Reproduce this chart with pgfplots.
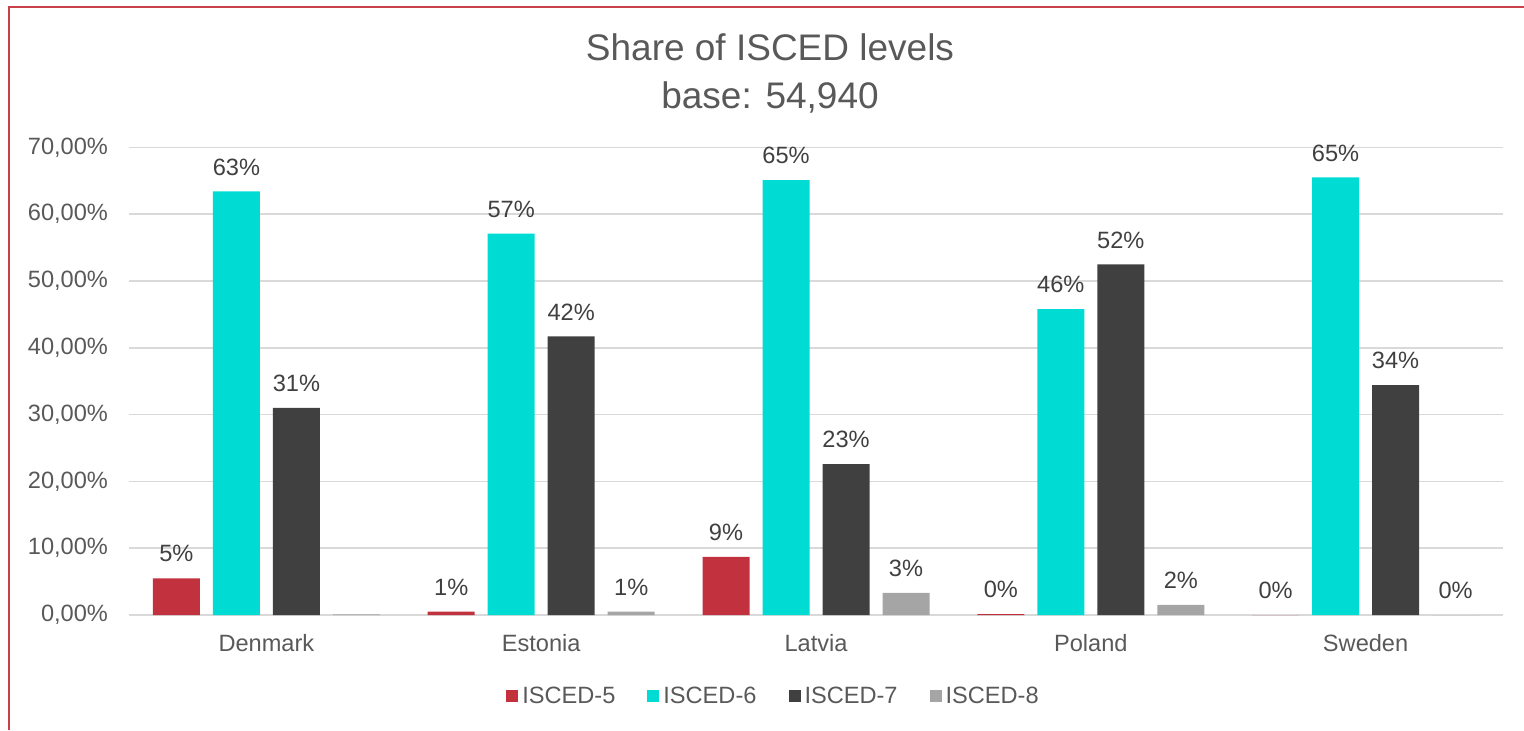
\documentclass[border=0pt]{standalone}
\usepackage{fontspec}
\setmainfont{Liberation Sans}
\usepackage{pgfplots}
\pgfplotsset{compat=1.18}
\definecolor{isA}{HTML}{C1323E}
\definecolor{isB}{HTML}{00DCD4}
\definecolor{isC}{HTML}{404040}
\definecolor{isD}{HTML}{A5A5A5}
\definecolor{txt}{HTML}{595959}
\definecolor{gridc}{HTML}{D9D9D9}
\definecolor{framec}{HTML}{C8404A}
\begin{document}
\begin{tikzpicture}
\useasboundingbox (0,0) rectangle (762pt,365pt);
\draw[framec, line width=1pt] (4.5pt,0) -- (4.5pt,361.25pt) -- (762pt,361.25pt);
\node[text=txt, font=\fontsize{18.5}{24}\selectfont, align=center] at (385pt,328.5pt) {Share of ISCED levels\\base: 54,940};
\begin{axis}[
  at={(64.5pt,57.5pt)}, anchor=south west, scale only axis,
  width=687pt, height=233.8pt,
  xmin=-0.5, xmax=4.5, ymin=0, ymax=70,
  ybar=6.5pt, bar width=23.5pt,
  xtick={0,1,2,3,4}, xticklabels={Denmark,Estonia,Latvia,Poland,Sweden},
  ytick={0,10,20,30,40,50,60,70},
  yticklabels={{0,00\%},{10,00\%},{20,00\%},{30,00\%},{40,00\%},{50,00\%},{60,00\%},{70,00\%}},
  axis line style={draw=none}, major tick length=0pt,
  ymajorgrids, grid style={gridc, line width=0.75pt},
  tick label style={font=\fontsize{11.8}{14}\selectfont, text=txt},
  xticklabel style={yshift=-6pt},
  yticklabel style={xshift=-7pt},
  clip=false,
  point meta=explicit symbolic,
  nodes near coords,
  nodes near coords style={font=\fontsize{11.8}{14}\selectfont, text=isC, yshift=4.5pt},
  legend columns=4,
  legend style={draw=none, fill=none, at={(0.4698,-0.174)}, anchor=center,
    font=\fontsize{11.8}{14}\selectfont, text=txt,
    /tikz/every even column/.append style={column sep=14pt}},
  legend image code/.code={\fill[#1] (0pt,-3pt) rectangle (6pt,3pt);},
]
\addplot[fill=isA, draw=none] coordinates {(0,5.5)[5\%] (1,0.5)[1\%] (2,8.7)[9\%] (3,0.15)[0\%] (4,0)[0\%]};
\addplot[fill=isB, draw=none] coordinates {(0,63.4)[63\%] (1,57.1)[57\%] (2,65.1)[65\%] (3,45.8)[46\%] (4,65.5)[65\%]};
\addplot[fill=isC, draw=none] coordinates {(0,31.0)[31\%] (1,41.7)[42\%] (2,22.6)[23\%] (3,52.5)[52\%] (4,34.4)[34\%]};
\addplot[fill=isD, draw=none] coordinates {(0,0.1)[\phantom{0}] (1,0.5)[1\%] (2,3.3)[3\%] (3,1.5)[2\%] (4,0)[0\%]};
\legend{ISCED-5,ISCED-6,ISCED-7,ISCED-8}
\end{axis}
\end{tikzpicture}
\end{document}
